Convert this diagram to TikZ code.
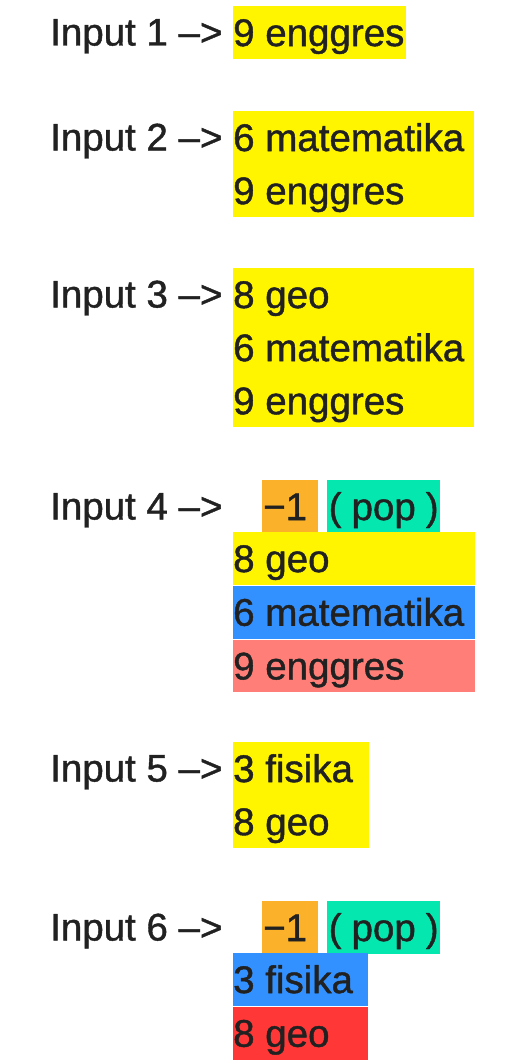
\documentclass[tikz,border=0pt]{standalone}
\usepackage{fontspec}
\setmainfont{Liberation Sans}[FakeBold=1.1]
\usetikzlibrary{positioning}

\definecolor{ink}{RGB}{33,33,33}
\definecolor{hlyellow}{RGB}{255,245,0}
\definecolor{hlorange}{RGB}{251,178,42}
\definecolor{hlgreen}{RGB}{4,232,176}
\definecolor{hlblue}{RGB}{51,145,255}
\definecolor{hlsalmon}{RGB}{255,127,120}
\definecolor{hlred}{RGB}{255,55,55}

\begin{document}
\begin{tikzpicture}[x=1pt, y=-1pt,
    every node/.style={font=\fontsize{38.5}{46}\selectfont, text=ink},
    lbl/.style={anchor=base west, inner sep=0pt},
    item/.style 2 args={fill=#1, anchor=north west,
        execute at begin node={\hbox to #2\bgroup},
        execute at end node={\hfil\egroup},
        inner xsep=0pt, inner ysep=0pt, minimum height=52.7pt,
        text height=36pt, text depth=9pt}]
    \useasboundingbox[fill=white] (0,0) rectangle (531,1062);

    \node[lbl] (in1) at (50, 45.5) {Input 1 –>};
    \node[item={hlyellow}{173pt}] (r1a) at (233, 6) {9 enggres};

    \node[lbl] (in2) at (50, 150.5) {Input 2 –>};
    \node[item={hlyellow}{241pt}] (r2a) at (233, 111) {6 matematika};
    \node[item={hlyellow}{241pt}, below=0pt of r2a] (r2b) {9 enggres};

    \node[lbl] (in3) at (50, 307.5) {Input 3 –>};
    \node[item={hlyellow}{241pt}] (r3a) at (233, 268) {8 geo};
    \node[item={hlyellow}{241pt}, below=0pt of r3a] (r3b) {6 matematika};
    \node[item={hlyellow}{241pt}, below=0pt of r3b] (r3c) {9 enggres};

    \node[lbl] (in4) at (50, 519.5) {Input 4 –>};
    \node[item={hlorange}{54pt}, inner xsep=1pt] (neg4) at (262, 480) {−1};
    \node[item={hlgreen}{110pt}, inner xsep=1.5pt] (pop4) at (327, 480) {( pop )};
    \node[item={hlyellow}{242pt}] (r4a) at (233, 532) {8 geo};
    \node[item={hlblue}{242pt}, below=0.6pt of r4a] (r4b) {6 matematika};
    \node[item={hlsalmon}{242pt}, below=0.6pt of r4b] (r4c) {9 enggres};

    \node[lbl] (in5) at (50, 781.5) {Input 5 –>};
    \node[item={hlyellow}{136pt}] (r5a) at (233, 742) {3 fisika};
    \node[item={hlyellow}{136pt}, below=0pt of r5a] (r5b) {8 geo};

    \node[lbl] (in6) at (50, 940.5) {Input 6 –>};
    \node[item={hlorange}{54pt}, inner xsep=1pt] (neg6) at (262, 901) {−1};
    \node[item={hlgreen}{110pt}, inner xsep=1.5pt] (pop6) at (327, 901) {( pop )};
    \node[item={hlblue}{135pt}] (r6a) at (233, 953) {3 fisika};
    \node[item={hlred}{135pt}, below=0.6pt of r6a] (r6b) {8 geo};
\end{tikzpicture}
\end{document}
